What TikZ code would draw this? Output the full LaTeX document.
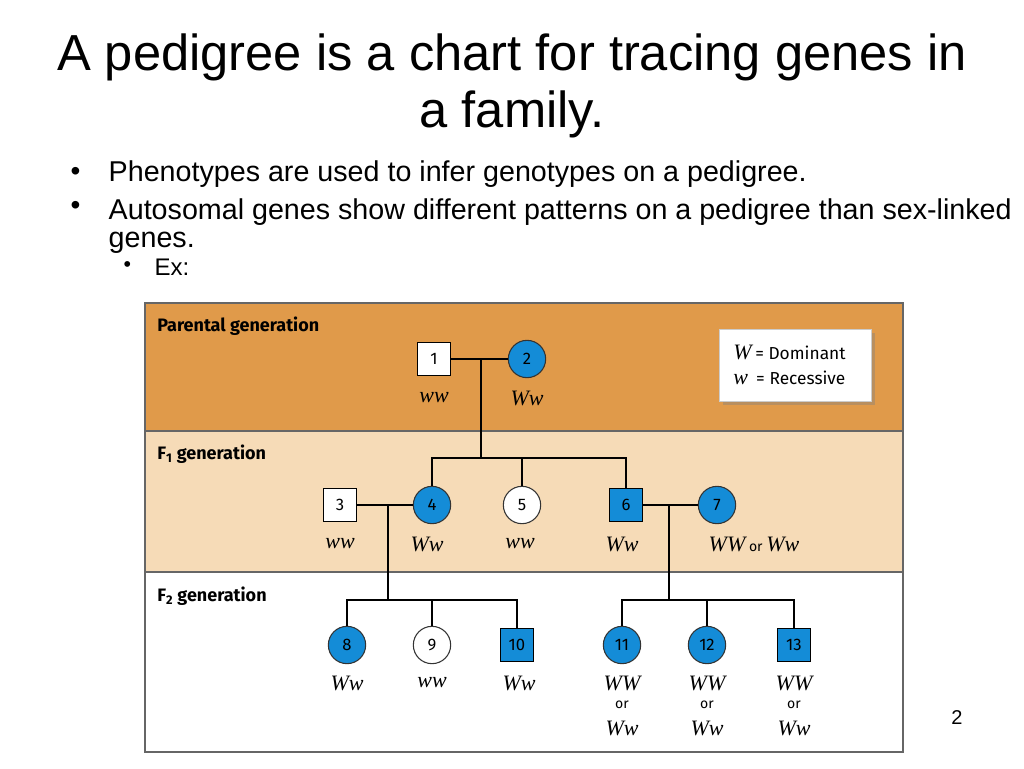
\documentclass[tikz,border=0pt]{standalone}
\usepackage{fontspec}
\setmainfont{Liberation Sans}
\newfontfamily\lab{Fira Sans}
\newfontfamily\geno{Liberation Serif}
\usetikzlibrary{shadows}
\definecolor{orng}{RGB}{224,154,74}
\definecolor{peach}{RGB}{246,219,183}
\definecolor{pblue}{RGB}{20,140,215}
\begin{document}
\begin{tikzpicture}[x=0.75pt,y=-0.75pt,
  sq/.style={draw=black,line width=0.8pt,minimum size=25pt,inner sep=0pt,font=\lab\fontsize{12.5}{14}\selectfont},
  ci/.style={circle,draw=black!80,line width=0.8pt,minimum size=28pt,inner sep=0pt,font=\lab\fontsize{12.5}{14}\selectfont},
  aff/.style={fill=pblue},
  gt/.style={font=\geno\itshape\fontsize{16.5}{18}\selectfont,inner sep=0pt},
  orr/.style={font=\lab\fontsize{10.5}{12}\selectfont,inner sep=0pt},
  gl/.style={font=\lab\bfseries\fontsize{13.5}{15}\selectfont,anchor=west,inner sep=0pt},
  ln/.style={line width=0.8pt}]
\useasboundingbox (0,0) rectangle (1024,768);
\fill[white] (0,0) rectangle (1024,768);
\node[font=\fontsize{38}{43}\selectfont,align=center] (title) at (512,86) {A pedigree is a chart for tracing genes in\\a family.};
\node[anchor=west,font=\fontsize{21}{24}\selectfont] (b0) at (66,174) {•};
\node[anchor=west,font=\fontsize{21.5}{24}\selectfont] (t0) at (104,174) {Phenotypes are used to infer genotypes on a pedigree.};
\node[anchor=west,font=\fontsize{21}{24}\selectfont] (b1) at (66,208) {•};
\node[anchor=north west,font=\fontsize{21.5}{21}\selectfont,align=left] (t1) at (104,194) {Autosomal genes show different patterns on a pedigree than sex-linked\\genes.};
\node[anchor=west,font=\fontsize{16}{18}\selectfont] (b2) at (119,267) {•};
\node[anchor=west,font=\fontsize{18}{20}\selectfont] (t2) at (150,267) {Ex:};
\node[font=\fontsize{15}{17}\selectfont] (pg) at (957,718) {2};
% panel
\fill[orng] (145,303) rectangle (903,431);
\fill[peach] (145,431) rectangle (903,572);
\draw[black!60,line width=0.8pt] (145,431) -- (903,431) (145,572) -- (903,572);
\draw[black!60,line width=0.8pt] (145,303) rectangle (903,752);
\node[gl] (l0) at (157,326) {Parental generation};
\node[gl] (l1) at (157,454) {F\textsubscript{1} generation};
\node[gl] (l2) at (157,596) {F\textsubscript{2} generation};
\node[draw=black!20,fill=white,drop shadow={opacity=0.4},minimum width=114pt,minimum height=54pt] (leg) at (795,365) {};
\node[anchor=west,inner sep=0pt] (lg1) at (733,352) {{\geno\itshape\fontsize{16.5}{18}\selectfont W} {\lab\fontsize{13}{15}\selectfont = Dominant}};
\node[anchor=west,inner sep=0pt] (lg2) at (733,378) {{\geno\itshape\fontsize{16.5}{18}\selectfont w} {\lab\fontsize{13}{15}\selectfont\ = Recessive}};
% nodes
\node[sq,fill=white] (n1) at (434,359) {1};
\node[ci,aff] (n2) at (527,359) {2};
\node[sq,fill=white] (n3) at (340,505) {3};
\node[ci,aff] (n4) at (432,505) {4};
\node[ci,fill=white] (n5) at (522,505) {5};
\node[sq,aff] (n6) at (626,505) {6};
\node[ci,aff] (n7) at (717,505) {7};
\node[ci,aff] (n8) at (347,645) {8};
\node[ci,fill=white] (n9) at (432,645) {9};
\node[sq,aff] (n10) at (517,645) {10};
\node[ci,aff] (n11) at (622,645) {11};
\node[ci,aff] (n12) at (707,645) {12};
\node[sq,aff] (n13) at (794,645) {13};
% connectors
\coordinate (m1) at (481,359);
\coordinate (m2) at (388,505);
\coordinate (m3) at (669,505);
\draw[ln] (n1) -- (n2);
\draw[ln] (m1) -- (481,458);
\draw[ln] (n4.north) |- (481,458) -| (n6.north);
\draw[ln] (n5.north) -- (522,458);
\draw[ln] (n3) -- (n4);
\draw[ln] (m2) -- (388,600);
\draw[ln] (n8.north) |- (388,600) -| (n10.north);
\draw[ln] (n9.north) -- (432,600);
\draw[ln] (n6) -- (n7);
\draw[ln] (m3) -- (669,600);
\draw[ln] (n11.north) |- (669,600) -| (n13.north);
\draw[ln] (n12.north) -- (707,600);
% genotypes
\node[gt] (g1) at (434,398) {ww};
\node[gt] (g2) at (527,398) {Ww};
\node[gt] (g3) at (340,544) {ww};
\node[gt] (g4) at (427,544) {Ww};
\node[gt] (g5) at (520,544) {ww};
\node[gt] (g6) at (622,544) {Ww};
\node[inner sep=0pt] (g7) at (754,544) {{\geno\itshape\fontsize{16.5}{18}\selectfont WW} {\lab\fontsize{10.5}{12}\selectfont or} {\geno\itshape\fontsize{16.5}{18}\selectfont Ww}};
\node[gt] (g8) at (347,683) {Ww};
\node[gt] (g9) at (432,683) {ww};
\node[gt] (g10) at (519,683) {Ww};
\foreach \x/\n in {622/11,707/12,794/13}{
  \node[gt] (ga\n) at (\x,683) {WW};
  \node[orr] (go\n) at (\x,705) {or};
  \node[gt] (gb\n) at (\x,728) {Ww};
}
\end{tikzpicture}
\end{document}
